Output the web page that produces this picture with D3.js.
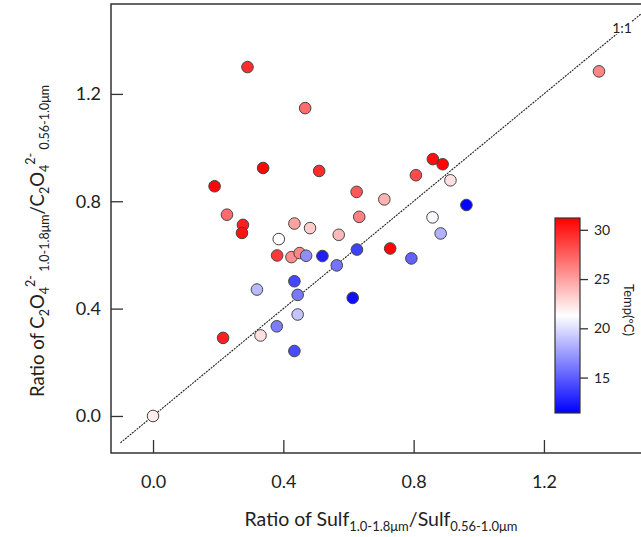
<!DOCTYPE html>
<html>
<head>
<meta charset="utf-8">
<script src="https://cdn.jsdelivr.net/npm/d3@7"></script>
<style>
  body { margin: 0; background: #fff; }
  svg { display: block; font-family: Lato, "Open Sans", sans-serif; }
</style>
</head>
<body>
<svg id="chart"></svg>
<script>
// ratio of sulfate (1.0-1.8um / 0.56-1.0um)
const sulfRatio = [0.290, 0.467, 0.338, 0.510, 0.189, 0.625, 0.227, 0.633, 0.434, 0.482,
  0.710, 0.276, 0.273, 0.570, 0.386, 0.381, 0.425, 0.450, 0.470, 0.520,
  0.626, 0.564, 0.434, 0.319, 0.444, 0.613, 0.444, 0.380, 0.330, 0.215,
  0.434, 0.859, 0.889, 0.807, 0.913, 0.962, 0.858, 0.883, 0.728, 0.793,
  0.000, 1.369];
// ratio of oxalate (1.0-1.8um / 0.56-1.0um)
const oxRatio = [1.300, 1.147, 0.924, 0.913, 0.856, 0.835, 0.750, 0.742, 0.717, 0.700,
  0.807, 0.712, 0.682, 0.675, 0.659, 0.598, 0.592, 0.607, 0.597, 0.596,
  0.620, 0.561, 0.502, 0.471, 0.451, 0.440, 0.378, 0.334, 0.300, 0.291,
  0.242, 0.957, 0.938, 0.897, 0.878, 0.786, 0.740, 0.680, 0.624, 0.587,
  0.000, 1.284];
// temperature (deg C)
const temp = [29.5, 27.0, 31.0, 29.5, 31.0, 27.8, 27.0, 26.2, 24.9, 23.3,
  24.3, 30.0, 30.5, 24.0, 21.3, 29.0, 25.7, 26.0, 16.9, 12.6,
  13.9, 15.9, 14.1, 18.6, 16.1, 12.0, 19.0, 16.2, 22.5, 30.0,
  14.3, 30.6, 31.0, 28.3, 22.5, 11.5, 21.0, 18.3, 31.0, 15.2,
  22.0, 26.0];

const xTicks = [0.0, 0.4, 0.8, 1.2];
const yTicks = [0.0, 0.4, 0.8, 1.2];
const tempTicks = [15, 20, 25, 30];
const tempRange = [11.4, 31.2];

const data = sulfRatio.map((s, i) => ({x: s, y: oxRatio[i], t: temp[i]}));

const W = 641, H = 537;
const margin = {top: 4, left: 111};
const plotW = 545, plotH = 449;

const svg = d3.select('#chart').attr('width', W).attr('height', H);

const xScale = d3.scaleLinear().domain([-0.129, 1.544]).range([0, plotW]);
const yScale = d3.scaleLinear().domain([-0.138, 1.535]).range([plotH, 0]);
const color = d3.scaleLinear()
  .domain([tempRange[0], (tempRange[0] + tempRange[1]) / 2, tempRange[1]])
  .range(['#0000ff', '#ffffff', '#ff0000']);

const chart = svg.append('g').attr('transform', `translate(${margin.left},${margin.top})`);

chart.append('clipPath').attr('id', 'clip')
  .append('rect').attr('width', plotW).attr('height', plotH);

// 1:1 line
chart.append('line')
  .attr('clip-path', 'url(#clip)')
  .attr('x1', xScale(-0.1)).attr('y1', yScale(-0.1))
  .attr('x2', xScale(1.6)).attr('y2', yScale(1.6))
  .attr('stroke', '#222').attr('stroke-width', 1.1)
  .attr('stroke-dasharray', '2,1');

const lbl = chart.append('text')
  .attr('x', xScale(1.44)).attr('y', yScale(1.445) + 5)
  .attr('text-anchor', 'middle')
  .attr('font-size', 14).attr('fill', '#222')
  .text('1:1');
const bb = lbl.node().getBBox();
chart.insert('rect', 'text')
  .attr('x', bb.x).attr('y', bb.y + 2).attr('width', bb.width).attr('height', bb.height - 4)
  .attr('fill', '#fff');

// points
chart.selectAll('.pt')
  .data(data)
  .join('circle')
  .attr('class', 'pt')
  .attr('cx', d => xScale(d.x))
  .attr('cy', d => yScale(d.y))
  .attr('r', 5.8)
  .attr('fill', d => color(d.t))
  .attr('stroke', '#444')
  .attr('stroke-width', 1);

// frame
chart.append('rect')
  .attr('width', plotW).attr('height', plotH)
  .attr('fill', 'none').attr('stroke', '#333').attr('stroke-width', 1.5);

// axes (ticks pointing inward)
const xAxis = d3.axisTop(xScale).tickValues(xTicks).tickSize(13).tickFormat(d3.format('.1f'));
const yAxis = d3.axisRight(yScale).tickValues(yTicks).tickSize(12).tickFormat(d3.format('.1f'));

const xAxisG = chart.append('g').attr('transform', `translate(0,${plotH})`).call(xAxis);
xAxisG.select('.domain').remove();
xAxisG.selectAll('line').attr('stroke', '#333').attr('stroke-width', 1.3);
xAxisG.selectAll('text')
  .attr('y', 22).attr('dy', '0.71em')
  .attr('font-size', 18).attr('font-family', 'Lato').attr('fill', '#222');

const yAxisG = chart.append('g').call(yAxis);
yAxisG.select('.domain').remove();
yAxisG.selectAll('line').attr('stroke', '#333').attr('stroke-width', 1.3);
yAxisG.selectAll('text')
  .attr('x', -10).attr('text-anchor', 'end')
  .attr('font-size', 18).attr('font-family', 'Lato').attr('fill', '#222');

// rich text helper: segments of [text, 'b'|'sub'|'sup']
function richText(sel, parts, size, small) {
  let cur = 0;
  const off = {b: 0, sub: 5, sup: -9};
  parts.forEach(([t, k]) => {
    sel.append('tspan')
      .attr('dy', off[k] - cur)
      .attr('font-size', k === 'b' ? size : small)
      .text(t);
    cur = off[k];
  });
}

const xLab = svg.append('text')
  .attr('x', 381).attr('y', 526)
  .attr('text-anchor', 'middle').attr('fill', '#222');
richText(xLab, [['Ratio of Sulf', 'b'], ['1.0-1.8\u03bcm', 'sub'], ['/Sulf', 'b'], ['0.56-1.0\u03bcm', 'sub']], 19.5, 13);

const yLab = svg.append('text')
  .attr('transform', 'translate(44,241) rotate(-90)')
  .attr('text-anchor', 'middle').attr('fill', '#222');
richText(yLab, [['Ratio of C', 'b'], ['2', 'sub'], ['O', 'b'], ['4', 'sub'], ['2-', 'sup'],
  [' 1.0-1.8\u03bcm', 'sub'], ['/C', 'b'], ['2', 'sub'], ['O', 'b'], ['4', 'sub'], ['2-', 'sup'],
  [' 0.56-1.0\u03bcm', 'sub']], 18.5, 12.5);

// colorbar
const cb = {x: 555, y: 218, w: 25, h: 195};
const cScale = d3.scaleLinear().domain(tempRange).range([cb.y + cb.h, cb.y]);

const grad = svg.append('defs').append('linearGradient')
  .attr('id', 'tgrad').attr('x1', 0).attr('y1', 1).attr('x2', 0).attr('y2', 0);
d3.range(0, 1.0001, 0.1).forEach(f => {
  grad.append('stop')
    .attr('offset', f)
    .attr('stop-color', color(tempRange[0] + f * (tempRange[1] - tempRange[0])));
});

svg.append('rect')
  .attr('x', cb.x).attr('y', cb.y).attr('width', cb.w).attr('height', cb.h)
  .attr('fill', 'url(#tgrad)').attr('stroke', '#333').attr('stroke-width', 1.2);

const cAxisG = svg.append('g')
  .attr('transform', `translate(${cb.x + cb.w},0)`)
  .call(d3.axisRight(cScale).tickValues(tempTicks).tickSize(8).tickPadding(6));
cAxisG.select('.domain').remove();
cAxisG.selectAll('line').attr('stroke', '#333').attr('stroke-width', 1.3);
cAxisG.selectAll('text')
  .attr('font-size', 14).attr('font-family', 'Lato').attr('fill', '#222');

svg.append('text')
  .attr('transform', 'translate(624,310) rotate(90)')
  .attr('text-anchor', 'middle')
  .attr('font-size', 13).attr('fill', '#222')
  .text('Temp(\u00baC)');
</script>
</body>
</html>
